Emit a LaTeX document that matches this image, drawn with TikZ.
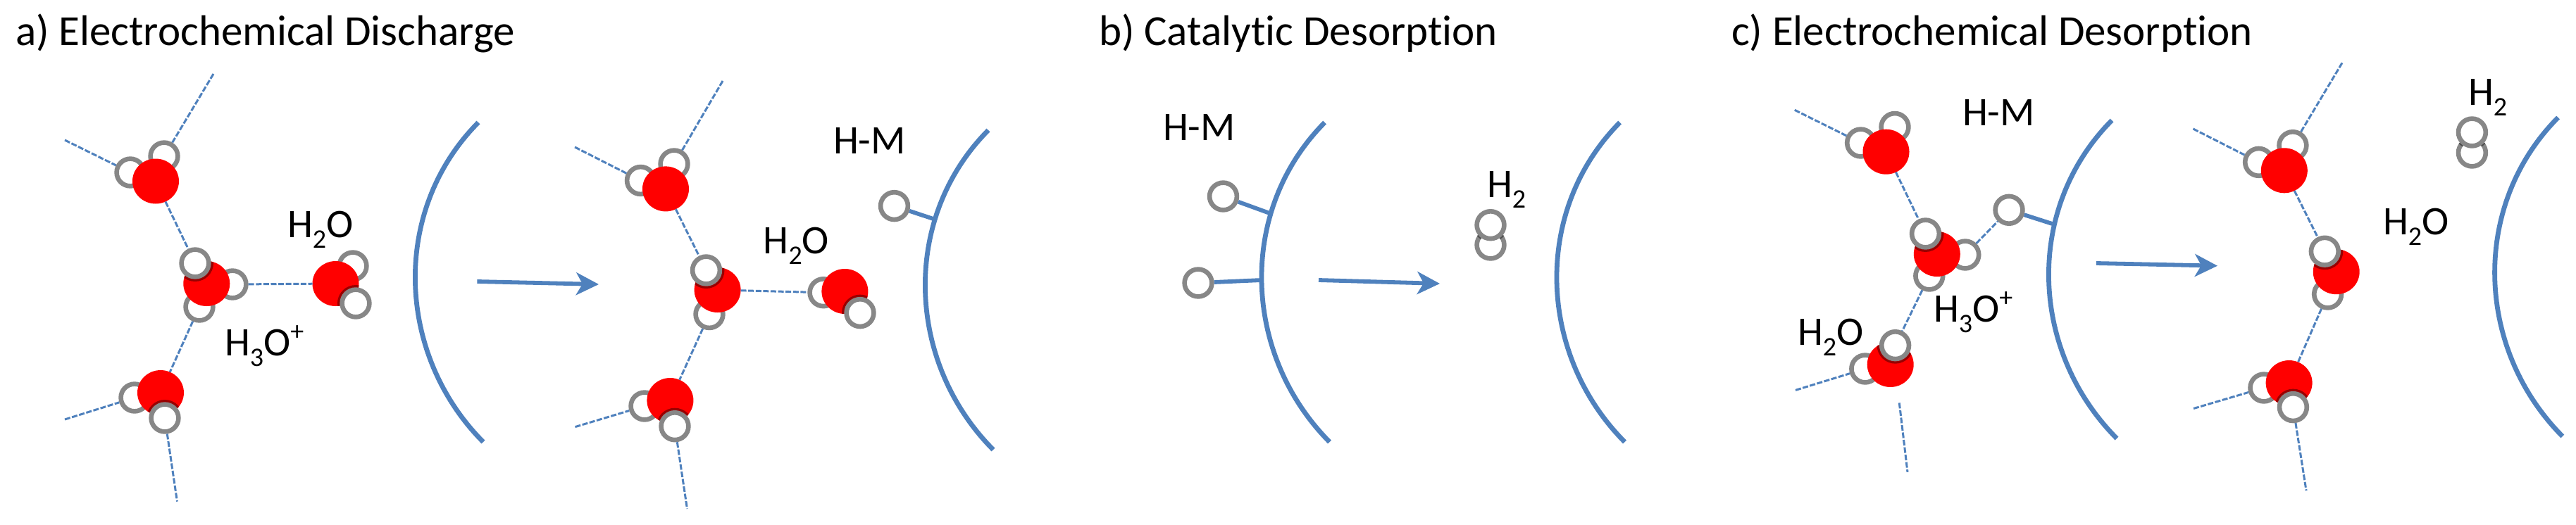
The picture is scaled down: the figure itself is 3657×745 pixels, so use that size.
\documentclass[tikz,border=0pt]{standalone}
\usepackage{fontspec}
\setmainfont[Ligatures=NoCommon]{Carlito}
\usetikzlibrary{arrows.meta,calc,shapes.geometric}
\definecolor{mblue}{HTML}{4F81BD}
\definecolor{mgray}{HTML}{878787}
\definecolor{dkred}{HTML}{990000}
\newcommand{\sbs}[1]{\raisebox{-7.5pt}{\fontsize{19}{20}\selectfont #1}}
\newcommand{\sps}[1]{\raisebox{11pt}{\fontsize{19}{20}\selectfont #1}}
\tikzset{
  x=0.5pt,y=-0.5pt,
  hatom/.style={circle,draw=mgray,fill=white,line width=3.3pt,minimum size=19.4pt,inner sep=0pt,outer sep=1.65pt},
  oatom/.style={ellipse,fill=red,minimum width=33pt,minimum height=32pt,inner sep=0pt,outer sep=0pt},
  bond/.style={draw=mblue,line width=1.5pt,dash pattern=on 4pt off 1.3pt},
  hmbond/.style={draw=mblue,line width=2.9pt},
  surface/.style={draw=mblue,line width=3.4pt},
  react/.style={draw=mblue,line width=2.9pt,-{Stealth[length=16pt,width=16pt,inset=4.5pt]}},
  lbl/.style={anchor=base west,inner sep=0pt,outer sep=0pt,font=\fontsize{28.8}{32}\selectfont,text=black},
  ttl/.style={anchor=base west,inner sep=0pt,outer sep=0pt,font=\fontsize{30.5}{32}\selectfont,text=black}
}
\newcommand{\Hb}[3]{\node[hatom] (#1) at (#2,#3) {};}
\newcommand{\Ox}[3]{\node[oatom] (#1) at (#2,#3) {};}
\newcommand{\Hf}[4]{\begin{scope}\clip (#4.center) ellipse [x radius=16.5pt,y radius=16pt];\fill[dkred] (#2,#3) circle [radius=13pt];\end{scope}\node[hatom] (#1) at (#2,#3) {};}
\newcommand{\Surf}[5]{\coordinate (#1a) at (#2,#3);\coordinate (#1b) at (#4,#5);\draw[surface] (#1a) .. controls ($(#1a)+(-124,125)$) and ($(#1b)+(-124,-125)$) .. (#1b);}
\begin{document}
\begin{tikzpicture}
\useasboundingbox (0,0) rectangle (3657,745);
\fill[white] (0,0) rectangle (3657,745);
% titles
\node[ttl] (ta) at (22,64) {a) Electrochemical Discharge};
\node[ttl] (tb) at (1560,64) {b) Catalytic Desorption};
\node[ttl] (tc) at (2458,64) {c) Electrochemical Desorption};
% ---------- panel a, left
\Hb{aAh1}{185}{245}\Hb{aAh2}{233}{222}\Ox{aAo}{221}{257.5}
\Hb{aBh2}{330}{404}\Hb{aBh3}{283}{436}\Ox{aBo}{293.3}{403}\Hf{aBh1}{277}{374}{aBo}
\Hb{aCh1}{501}{378}\Ox{aCo}{476.5}{403}\Hf{aCh2}{505}{431}{aCo}
\Hb{aDh1}{191}{565}\Ox{aDo}{228}{558}\Hf{aDh2}{234}{594}{aDo}
\coordinate (a1) at (92,199);\coordinate (a2) at (303,105);\coordinate (a3) at (92,596);\coordinate (a4) at (251.5,712.6);
\draw[bond] (a1) -- (aAh1);\draw[bond] (a2) -- (aAh2);
\draw[bond] (aAo) -- (aBh1);\draw[bond] (aBh2) -- (aCo);\draw[bond] (aBh3) -- (aDo);
\draw[bond] (a3) -- (aDh1);\draw[bond] (aDh2) -- (a4);
\Surf{sa}{679}{174}{686}{628}
\node[lbl] (aw) at (408,337) {H\sbs{2}O};
\node[lbl] (ai) at (319,505) {H\sbs{3}O\sps{+}};
\coordinate (ar1s) at (677.4,400);\coordinate (ar1e) at (850,404);
\draw[react] (ar1s) -- (ar1e);
% ---------- panel a, right
\Hb{eAh1}{909.5}{256.5}\Hb{eAh2}{957}{233}\Ox{eAo}{945}{268.4}
\Hb{eBh3}{1007}{446.5}\Ox{eBo}{1018.6}{412}\Hf{eBh1}{1002.5}{384}{eBo}
\Hb{eCh1}{1169}{415.7}\Ox{eCo}{1199.4}{414}\Hf{eCh2}{1221}{444.6}{eCo}
\Hb{eDh1}{915}{577}\Ox{eDo}{951.4}{569}\Hf{eDh2}{958}{605.7}{eDo}
\coordinate (e1) at (816,209);\coordinate (e2) at (1026,115);\coordinate (e3) at (816.5,606.6);\coordinate (e4) at (975.5,723);
\draw[bond] (e1) -- (eAh1);\draw[bond] (e2) -- (eAh2);
\draw[bond] (eAo) -- (eBh1);\draw[bond] (eBo) -- (eCh1);\draw[bond] (eBh3) -- (eDo);
\draw[bond] (e3) -- (eDh1);\draw[bond] (eDh2) -- (e4);
\Surf{se}{1403}{185}{1410}{639}
\node[hatom] (eM) at (1269.5,292.6) {};
\coordinate (eMs) at (1325,311);\draw[hmbond] (eM) -- (eMs);
\node[lbl] (ehm) at (1183,218.5) {H-M};
\node[lbl] (ew) at (1083.6,360) {H\sbs{2}O};
% ---------- panel b
\Surf{sb}{1880.6}{174}{1887.5}{628}
\node[hatom] (bM1) at (1736.5,279) {};
\node[hatom] (bM2) at (1701,402) {};
\coordinate (bM1s) at (1802.5,303);\coordinate (bM2s) at (1791,398);
\draw[hmbond] (bM1) -- (bM1s);\draw[hmbond] (bM2) -- (bM2s);
\node[lbl] (bhm) at (1651,199.5) {H-M};
\coordinate (ar2s) at (1872,398);\coordinate (ar2e) at (2044,403);
\draw[react] (ar2s) -- (ar2e);
\node[hatom] (bH2) at (2116,348) {};
\begin{scope}[even odd rule]\clip (2116,348) circle [radius=11.4pt] (2116,348) circle [radius=8.1pt];\fill[black!70] (2116,319.7) circle [radius=12.3pt];\end{scope}
\node[hatom] (bH1) at (2116,319.7) {};
\node[lbl] (bh) at (2111,280) {H\sbs{2}};
\Surf{sbb}{2299.6}{174}{2306.5}{628}
% ---------- panel c, left
\Hb{cAh1}{2641.6}{203}\Hb{cAh2}{2690}{180.5}\Ox{cAo}{2677.5}{215.7}
\Hb{cBh2}{2789.8}{362}\Hb{cBh3}{2738.8}{392}\Ox{cBo}{2749.8}{361}\Hf{cBh1}{2733.5}{332}{cBo}
\Hb{cDh1}{2647.8}{524}\Ox{cDo}{2683.7}{518}\Hf{cDh2}{2690.6}{490.7}{cDo}
\node[hatom] (cM) at (2852,298.3) {};
\coordinate (c1) at (2547.8,156.3);\coordinate (c3) at (2549,554.4);\coordinate (c4s) at (2696.3,572.4);\coordinate (c4e) at (2708,670.8);
\coordinate (cMs) at (2913.5,318);
\draw[bond] (c1) -- (cAh1);
\draw[bond] (cAo) -- (cBh1);\draw[bond] (cBh2) -- (cM);\draw[bond] (cBh3) -- (cDh2);
\draw[bond] (c3) -- (cDh1);\draw[bond] (c4s) -- (c4e);
\draw[hmbond] (cM) -- (cMs);
\Surf{sc}{2998}{171}{3005}{623}
\node[lbl] (chm) at (2786,178) {H-M};
\node[lbl] (ci) at (2745,457) {H\sbs{3}O\sps{+}};
\node[lbl] (cw) at (2552,490) {H\sbs{2}O};
\coordinate (ar3s) at (2975.8,374);\coordinate (ar3e) at (3148,377.7);
\draw[react] (ar3s) -- (ar3e);
% ---------- panel c, right
\Hb{fAh1}{3206.6}{230.4}\Hb{fAh2}{3254.9}{206.7}\Ox{fAo}{3242.8}{242.3}
\Hb{fBh3}{3304.6}{418}\Ox{fBo}{3316.7}{386.2}\Hf{fBh1}{3300.3}{357.2}{fBo}
\Hb{fDh1}{3213.9}{551}\Ox{fDo}{3249.6}{544}\Hf{fDh2}{3255.4}{578.6}{fDo}
\coordinate (f1) at (3113.4,183);\coordinate (f2) at (3325,89.3);\coordinate (f3) at (3114,580.5);\coordinate (f4) at (3274,697);
\draw[bond] (f1) -- (fAh1);\draw[bond] (f2) -- (fAh2);
\draw[bond] (fAo) -- (fBh1);\draw[bond] (fBh3) -- (fDo);
\draw[bond] (f3) -- (fDh1);\draw[bond] (fDh2) -- (f4);
\node[hatom] (fH2) at (3509.4,217) {};
\begin{scope}[even odd rule]\clip (3509.4,217) circle [radius=11.4pt] (3509.4,217) circle [radius=8.1pt];\fill[black!70] (3509.4,188) circle [radius=12.3pt];\end{scope}
\node[hatom] (fH1) at (3509.4,188) {};
\node[lbl] (fh) at (3504,149.6) {H\sbs{2}};
\node[lbl] (fw) at (3383,333.5) {H\sbs{2}O};
\Surf{sf}{3631.5}{167}{3637.8}{620}
\end{tikzpicture}
\end{document}
